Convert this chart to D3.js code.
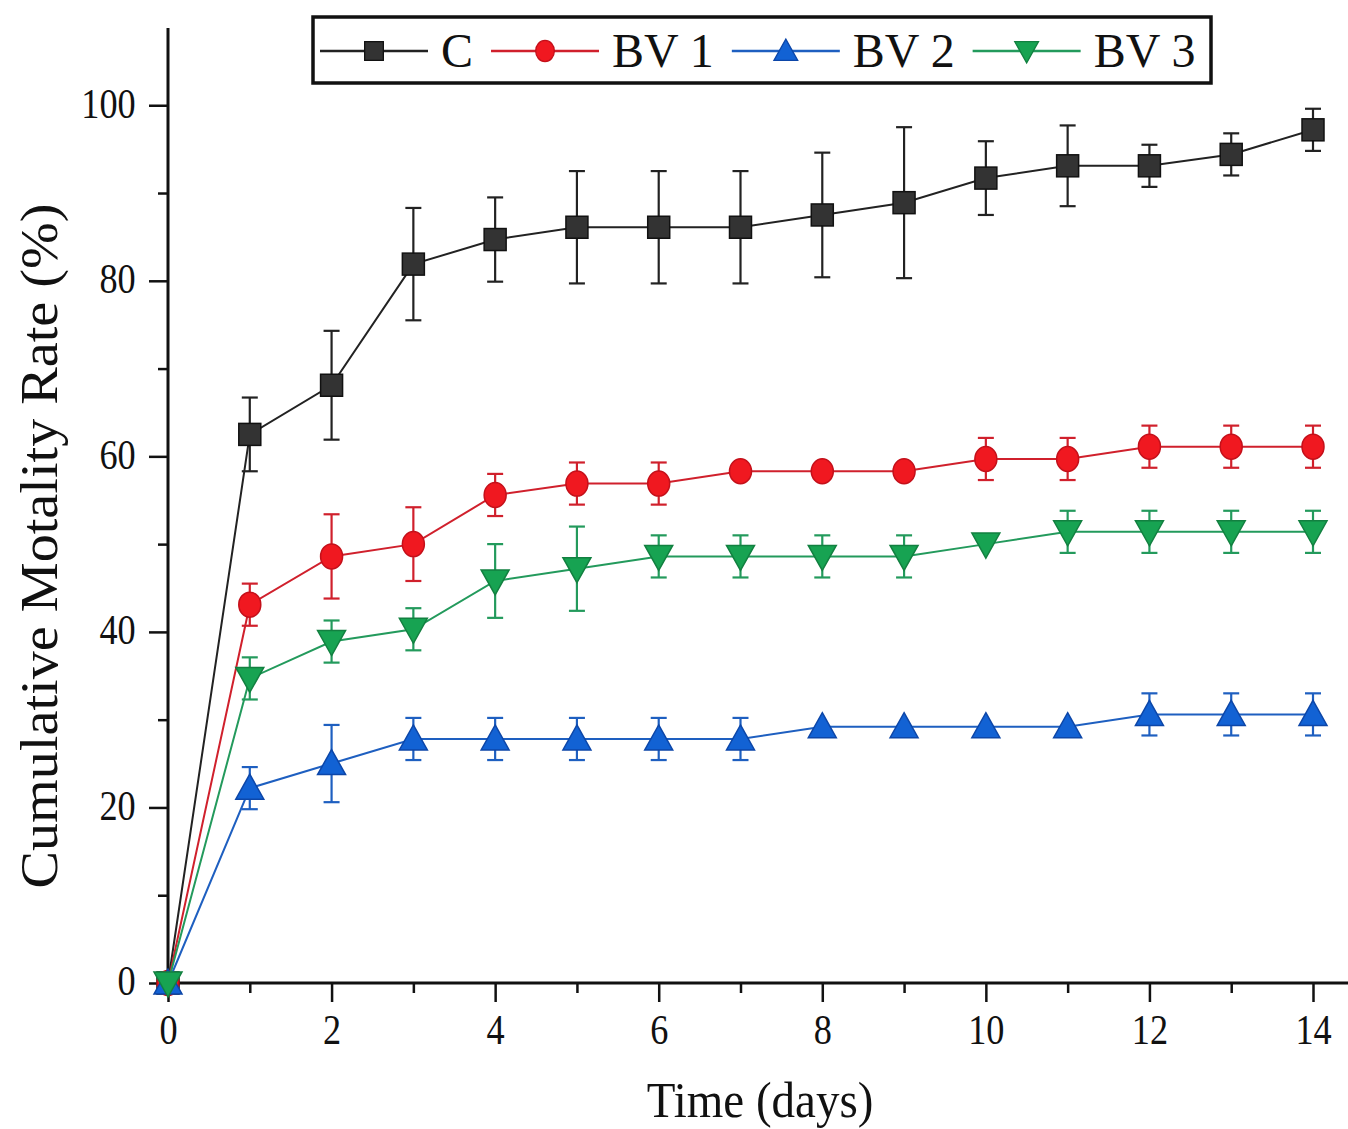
<!DOCTYPE html>
<html>
<head>
<meta charset="utf-8">
<script src="https://cdn.jsdelivr.net/npm/d3@7"></script>
<style>
  body { margin: 0; background: #fff; }
  text { font-family: "Liberation Serif", "Times New Roman", serif; fill: #111; }
</style>
</head>
<body>
<div id="chart"></div>
<script>
// data
const days = [0, 1, 2, 3, 4, 5, 6, 7, 8, 9, 10, 11, 12, 13, 14];
const seriesNames = ["C", "BV 1", "BV 2", "BV 3"];
const cMean   = [0, 62.5, 68.1, 81.9, 84.7, 86.1, 86.1, 86.1, 87.5, 88.9, 91.7, 93.1, 93.1, 94.4, 97.2];
const cErr    = [0, 4.2, 6.2, 6.4, 4.8, 6.4, 6.4, 6.4, 7.1, 8.6, 4.2, 4.6, 2.4, 2.4, 2.4];
const bv1Mean = [0, 43.1, 48.6, 50.0, 55.6, 56.9, 56.9, 58.3, 58.3, 58.3, 59.7, 59.7, 61.1, 61.1, 61.1];
const bv1Err  = [0, 2.4, 4.8, 4.2, 2.4, 2.4, 2.4, 0, 0, 0, 2.4, 2.4, 2.4, 2.4, 2.4];
const bv2Mean = [0, 22.2, 25.0, 27.8, 27.8, 27.8, 27.8, 27.8, 29.2, 29.2, 29.2, 29.2, 30.6, 30.6, 30.6];
const bv2Err  = [0, 2.4, 4.4, 2.4, 2.4, 2.4, 2.4, 2.4, 0, 0, 0, 0, 2.4, 2.4, 2.4];
const bv3Mean = [0, 34.7, 38.9, 40.3, 45.8, 47.2, 48.6, 48.6, 48.6, 48.6, 50.0, 51.4, 51.4, 51.4, 51.4];
const bv3Err  = [0, 2.4, 2.4, 2.4, 4.2, 4.8, 2.4, 2.4, 2.4, 2.4, 0, 2.4, 2.4, 2.4, 2.4];
const xMajorTicks = [0, 2, 4, 6, 8, 10, 12, 14];
const xMinorTicks = [1, 3, 5, 7, 9, 11, 13];
const yMajorTicks = [0, 20, 40, 60, 80, 100];
const yMinorTicks = [10, 30, 50, 70, 90];

const width = 1348;
const height = 1129;
const margin = {t: 28, b: 146, l: 168, r: 35};

const svg = d3.select("#chart")
    .append("svg")
    .attr("width", width)
    .attr("height", height);

const x = d3.scaleLinear()
    .domain([0, 14])
    .range([margin.l, width - margin.r]);
const y = d3.scaleLinear()
    .domain([0, 108.8])
    .range([height - margin.b, margin.t]);

// series styles
const styles = [
    {line: "#222", fill: "#333", stroke: "#111", shape: "square"},
    {line: "#d0202c", fill: "#f01820", stroke: "#c4101a", shape: "circle"},
    {line: "#1e5fc0", fill: "#1262d4", stroke: "#0c46a8", shape: "up"},
    {line: "#239a5c", fill: "#17a352", stroke: "#128040", shape: "down"}
];
const series = [
    {name: seriesNames[0], mean: cMean, err: cErr},
    {name: seriesNames[1], mean: bv1Mean, err: bv1Err},
    {name: seriesNames[2], mean: bv2Mean, err: bv2Err},
    {name: seriesNames[3], mean: bv3Mean, err: bv3Err}
];

function drawMarker(sel, shape, st) {
    if (shape === "square") {
        sel.append("rect")
            .attr("x", -11).attr("y", -11)
            .attr("width", 22).attr("height", 22);
    } else if (shape === "circle") {
        sel.append("ellipse").attr("rx", 11).attr("ry", 12.5);
    } else if (shape === "up") {
        sel.append("path").attr("d", "M0,-14L14,11L-14,11Z");
    } else {
        sel.append("path").attr("d", "M0,14L14,-11L-14,-11Z");
    }
    sel.selectAll("*")
        .attr("fill", st.fill)
        .attr("stroke", st.stroke)
        .attr("stroke-width", 1.5);
}

// axes
const yAxisMajor = d3.axisLeft(y)
    .tickValues(yMajorTicks)
    .tickSize(19)
    .tickPadding(14)
    .tickSizeOuter(0);
const yAxisMinor = d3.axisLeft(y)
    .tickValues(yMinorTicks)
    .tickSize(10)
    .tickFormat("")
    .tickSizeOuter(0);
const xAxisMajor = d3.axisBottom(x)
    .tickValues(xMajorTicks)
    .tickSize(19)
    .tickPadding(12)
    .tickSizeOuter(0);
const xAxisMinor = d3.axisBottom(x)
    .tickValues(xMinorTicks)
    .tickSize(10)
    .tickFormat("")
    .tickSizeOuter(0);

const gy = svg.append("g").attr("transform", "translate(" + margin.l + ",0)");
gy.call(yAxisMajor);
gy.append("g").call(yAxisMinor);
const gx = svg.append("g").attr("transform", "translate(0," + y(0) + ")");
gx.call(xAxisMajor);
gx.append("g").call(xAxisMinor);

svg.selectAll(".domain").remove();
svg.selectAll(".tick line").attr("stroke", "#111").attr("stroke-width", 2.5);
// labels in the figure look a little taller than wide
svg.selectAll(".tick text")
    .attr("font-size", "37px")
    .attr("fill", "#111")
    .attr("transform", "scale(0.98,1.14)")
    .style("font-family", "Liberation Serif, serif");
gx.selectAll(".tick text").attr("dy", "0.62em");
gy.selectAll(".tick text").attr("dy", "0.28em");

// axis lines: y up to the top of the range, x runs past 14 to the edge
svg.append("line")
    .attr("x1", margin.l).attr("x2", margin.l)
    .attr("y1", y(0) + 1).attr("y2", margin.t)
    .attr("stroke", "#111").attr("stroke-width", 3);
svg.append("line")
    .attr("x1", margin.l - 1).attr("x2", width)
    .attr("y1", y(0)).attr("y2", y(0))
    .attr("stroke", "#111").attr("stroke-width", 3);

// axis titles
svg.append("text")
    .attr("transform", "translate(760,1117) scale(1,1.08)")
    .attr("text-anchor", "middle")
    .attr("font-size", "47px")
    .text("Time (days)");
svg.append("text")
    .attr("transform", "translate(57,546) rotate(-90)")
    .attr("text-anchor", "middle")
    .attr("font-size", "52px")
    .attr("textLength", 685)
    .attr("lengthAdjust", "spacingAndGlyphs")
    .text("Cumulative Motality Rate (%)");

// plot series
const line = d3.line()
    .x((d, i) => x(days[i]))
    .y(d => y(d));

series.forEach((s, k) => {
    const st = styles[k];
    const g = svg.append("g").attr("class", "series");
    g.append("path")
        .datum(s.mean)
        .attr("d", line)
        .attr("fill", "none")
        .attr("stroke", st.line)
        .attr("stroke-width", 2);

    const pts = days.map((d, i) => ({d: d, v: s.mean[i], e: s.err[i]}));
    const eb = g.selectAll(".err")
        .data(pts.filter(p => p.e > 0))
        .enter()
        .append("g")
        .attr("class", "err")
        .attr("stroke", st.line)
        .attr("stroke-width", 2.2);
    eb.append("line")
        .attr("x1", p => x(p.d)).attr("x2", p => x(p.d))
        .attr("y1", p => y(p.v + p.e)).attr("y2", p => y(p.v - p.e));
    eb.append("line")
        .attr("x1", p => x(p.d) - 8).attr("x2", p => x(p.d) + 8)
        .attr("y1", p => y(p.v + p.e)).attr("y2", p => y(p.v + p.e));
    eb.append("line")
        .attr("x1", p => x(p.d) - 8).attr("x2", p => x(p.d) + 8)
        .attr("y1", p => y(p.v - p.e)).attr("y2", p => y(p.v - p.e));

    g.selectAll(".mark")
        .data(pts)
        .enter()
        .append("g")
        .attr("class", "mark")
        .attr("transform", p => "translate(" + x(p.d) + "," + y(p.v) + ")")
        .each(function () { drawMarker(d3.select(this), st.shape, st); });
});

// legend
const legend = svg.append("g");
legend.append("rect")
    .attr("x", 313).attr("y", 17)
    .attr("width", 898).attr("height", 66)
    .attr("fill", "#fff")
    .attr("stroke", "#111")
    .attr("stroke-width", 3.5);

let cursor = 320;
const rowY = 51;
series.forEach((s, k) => {
    const st = styles[k];
    const item = legend.append("g");
    item.append("line")
        .attr("x1", cursor).attr("x2", cursor + 108)
        .attr("y1", rowY).attr("y2", rowY)
        .attr("stroke", st.line).attr("stroke-width", 2.5);
    const m = item.append("g")
        .attr("transform", "translate(" + (cursor + 54) + "," + rowY + ") scale(0.85)");
    drawMarker(m, st.shape, st);
    const t = item.append("text")
        .attr("x", cursor + 121)
        .attr("y", rowY + 16)
        .attr("font-size", "48px")
        .text(s.name);
    cursor = cursor + 121 + t.node().getComputedTextLength() + 18;
});
</script>
</body>
</html>
